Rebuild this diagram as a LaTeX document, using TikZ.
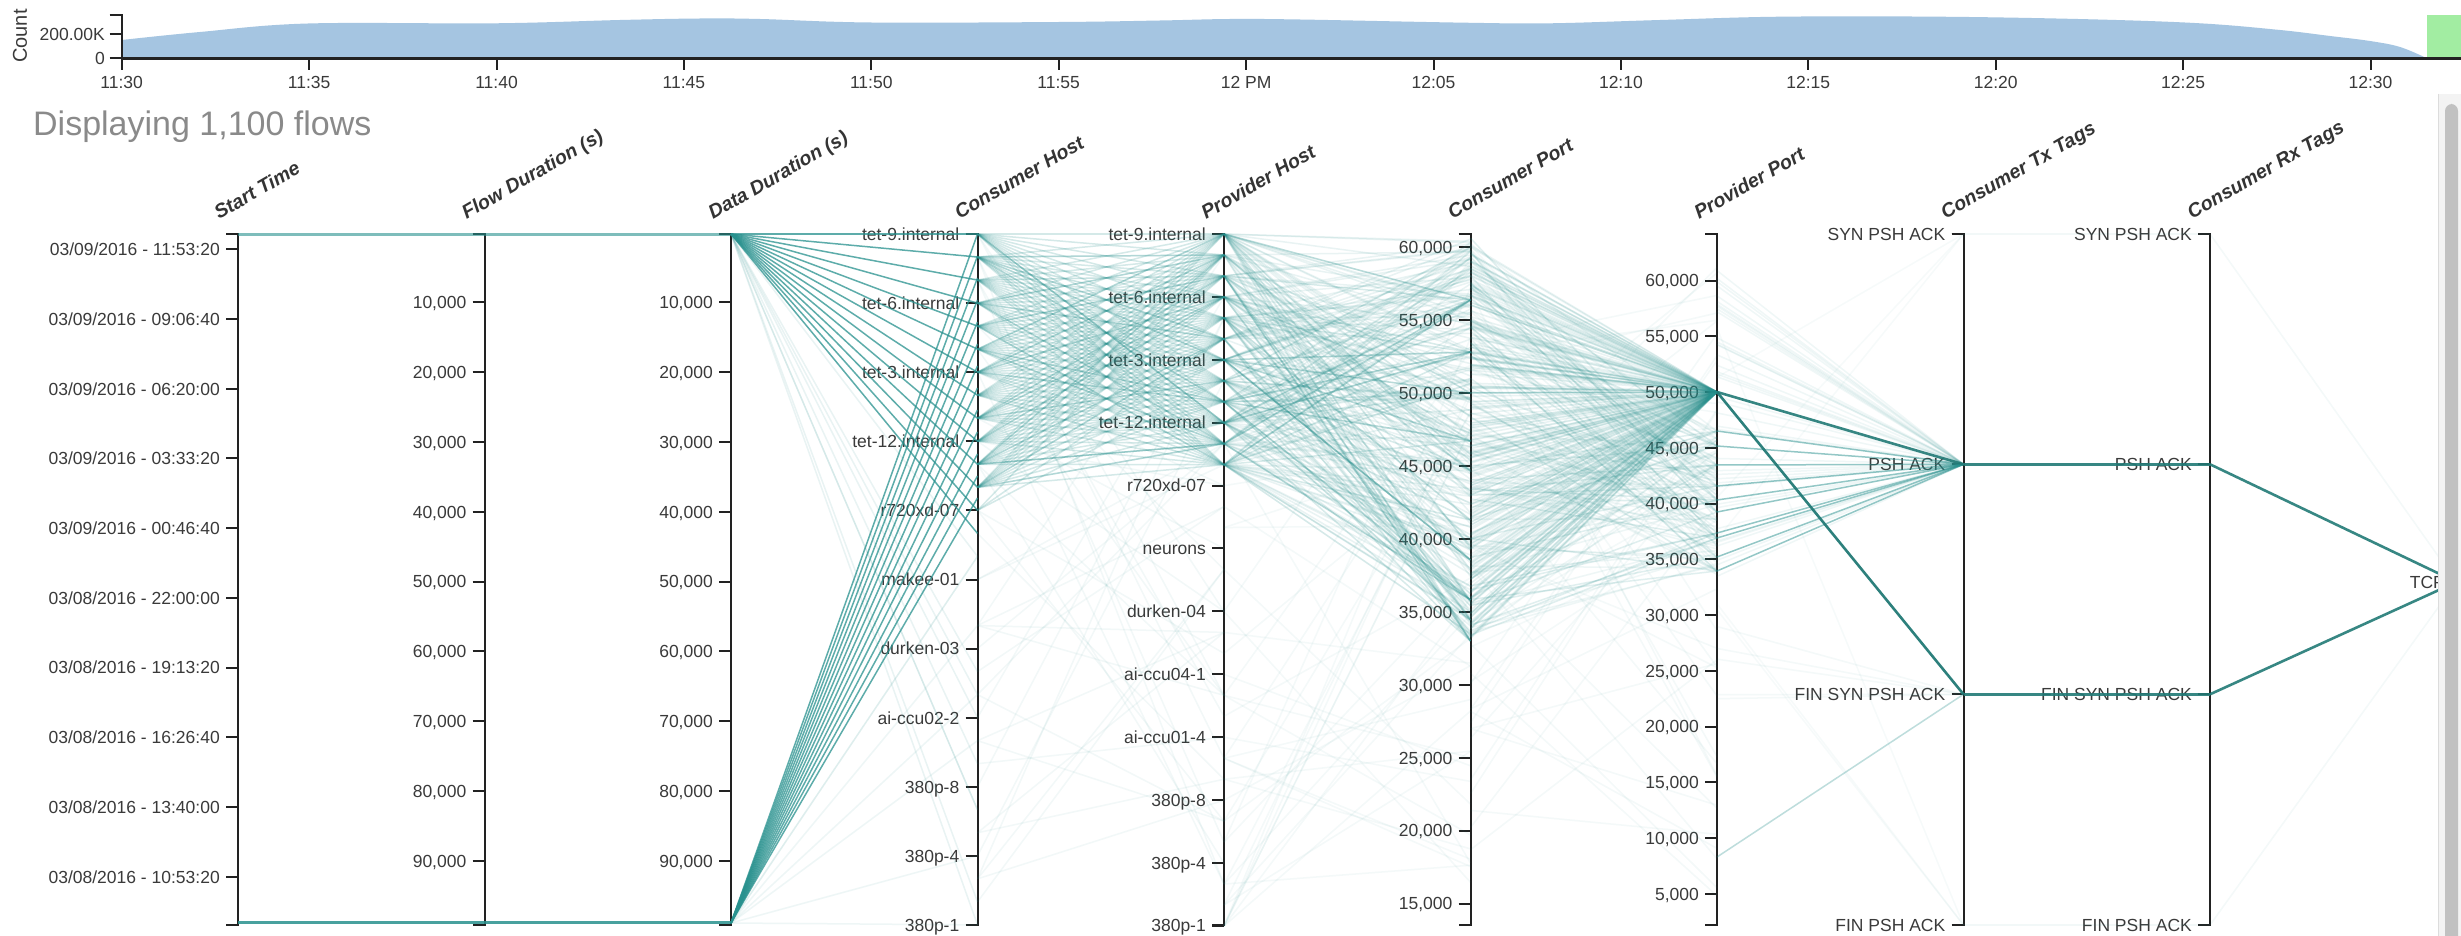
\documentclass[tikz,border=0pt]{standalone}
\usepackage{fontspec}
\setmainfont{Liberation Sans}
\definecolor{flow}{RGB}{40,145,142}
\definecolor{flowdark}{RGB}{34,122,118}
\definecolor{axisgray}{RGB}{34,34,34}
\definecolor{labgray}{RGB}{58,58,58}
\definecolor{titlegray}{RGB}{52,52,52}
\definecolor{areablue}{RGB}{165,197,225}
\definecolor{brush}{RGB}{152,236,152}
\definecolor{headgray}{RGB}{138,138,138}
\definecolor{trackgray}{RGB}{243,243,243}
\definecolor{trackedge}{RGB}{220,220,220}
\definecolor{thumbgray}{RGB}{193,193,193}

\newcommand{\paxis}[1]{\draw[axisline] (#1-12,234) -- (#1,234) -- (#1,925) -- (#1-12,925);}
\newcommand{\ptick}[3]{\draw[axisline] (#1-12,#2) -- (#1,#2); \node[ticklab] at (#1-18,#2+6.3) {#3};}

\begin{document}
\begin{tikzpicture}[x=1pt,y=-1pt,
  axisline/.style={draw=axisgray, line width=2pt},
  ticklab/.style={anchor=base east, text=labgray, inner sep=0pt,
    font=\fontsize{17.5}{20}\selectfont},
  smalllab/.style={text=labgray, inner sep=0pt, font=\fontsize{17.5}{20}\selectfont},
  axtitle/.style={anchor=base west, rotate=30, text=titlegray, inner sep=0pt,
    font=\fontsize{19.5}{22}\selectfont\bfseries\itshape},
  fl/.style={draw=flow, line width=1.5pt},
  heavy/.style={draw=flowdark, line width=2.6pt},
]
\useasboundingbox (0,0) rectangle (2461,936);
\fill[white] (0,0) rectangle (2461,936);

% ---------- timeline overview ----------
\fill[areablue] plot[smooth, tension=0.6] coordinates {(121.7,40) (200,32) (308,23.5)
  (495,23.3) (620,20) (700,18.5) (760,19) (871,22.5) (1059,22) (1160,20.5) (1230,19)
  (1300,19.5) (1465,22.7) (1550,23.3) (1660,20) (1780,16.7) (1940,16.7) (2090,19.3)
  (2200,23.3) (2280,30) (2330,36) (2370,41) (2400,47) (2427,58.3)}
  -- (121.7,58.3) -- cycle;
\fill[brush, opacity=0.9] (2427,15) rectangle (2461,58.3);
\draw[draw=axisgray, line width=2.6pt] (121.7,58.3) -- (2461,58.3);
\foreach \t [count=\i from 0] in {11:30,11:35,11:40,11:45,11:50,11:55,12 PM,12:05,12:10,12:15,12:20,12:25,12:30}{
  \pgfmathsetmacro\xx{121.7+187.4*\i}
  \draw[axisline] (\xx,58.3) -- (\xx,70);
  \node[smalllab, anchor=north] (time\i) at (\xx,76) {\t};
}
\draw[axisline] (109.7,15) -- (121.7,15) -- (121.7,58.3);
\draw[axisline] (109.7,34.3) -- (121.7,34.3);
\draw[axisline] (109.7,58.3) -- (121.7,58.3);
\node[smalllab, anchor=east] (c200) at (105,34.3) {200.00K};
\node[smalllab, anchor=east] (c0) at (105,58.3) {0};
\node[text=labgray, inner sep=0pt, rotate=90, font=\fontsize{20}{22}\selectfont] (count) at (20,36) {Count};

\node[anchor=west, text=headgray, inner sep=0pt, font=\fontsize{34}{38}\selectfont] (head) at (33,127) {Displaying 1,100 flows};

% ---------- axes ----------
\foreach \ax in {238,484.5,731,977.5,1224,1470.5,1717,1963.5,2210,2456.5}{\paxis{\ax}}

\foreach \lbl [count=\i from 0] in {03/09/2016 - 11:53:20,03/09/2016 - 09:06:40,03/09/2016 - 06:20:00,
  03/09/2016 - 03:33:20,03/09/2016 - 00:46:40,03/08/2016 - 22:00:00,03/08/2016 - 19:13:20,
  03/08/2016 - 16:26:40,03/08/2016 - 13:40:00,03/08/2016 - 10:53:20}{
  \pgfmathsetmacro\yy{249.3+69.72*\i}
  \ptick{238}{\yy}{\lbl}
}
\foreach \v in {1,...,9}{
  \pgfmathsetmacro\yy{232.5+69.8*\v}
  \ptick{484.5}{\yy}{\v0,000}
  \ptick{731}{\yy}{\v0,000}
}
\foreach \lbl [count=\i from 0] in {tet-9.internal,tet-6.internal,tet-3.internal,tet-12.internal,
  r720xd-07,makee-01,durken-03,ai-ccu02-2,380p-8,380p-4,380p-1}{
  \pgfmathsetmacro\yy{234+69.1*\i}
  \ptick{977.5}{\yy}{\lbl}
}
\foreach \lbl [count=\i from 0] in {tet-9.internal,tet-6.internal,tet-3.internal,tet-12.internal,
  r720xd-07,neurons,durken-04,ai-ccu04-1,ai-ccu01-4,380p-8,380p-4,380p-1}{
  \pgfmathsetmacro\yy{234+62.88*\i}
  \ptick{1224}{\yy}{\lbl}
}
\foreach \v [count=\i from 0] in {60,55,...,15}{
  \pgfmathsetmacro\yy{247.4+72.91*\i}
  \ptick{1470.5}{\yy}{\v,000}
}
\foreach \v [count=\i from 0] in {60,55,...,5}{
  \pgfmathsetmacro\yy{280.7+55.74*\i}
  \ptick{1717}{\yy}{\v,000}
}
\foreach \ax in {1963.5,2210}{
  \ptick{\ax}{234}{SYN PSH ACK}
  \ptick{\ax}{464.3}{PSH ACK}
  \ptick{\ax}{694.3}{FIN SYN PSH ACK}
  \ptick{\ax}{925}{FIN PSH ACK}
}
\draw[axisline] (2444.5,582) -- (2456.5,582);
\node[ticklab] (tcp) at (2445,588.3) {TCP};

\node[axtitle] (tstart) at (219,220) {Start Time};
\node[axtitle] (tflow) at (466.5,220) {Flow Duration (s)};
\node[axtitle] (tdata) at (713,220) {Data Duration (s)};
\node[axtitle] (tchost) at (959.5,220) {Consumer Host};
\node[axtitle] (tphost) at (1206,220) {Provider Host};
\node[axtitle] (tcport) at (1452.5,220) {Consumer Port};
\node[axtitle] (tpport) at (1699,220) {Provider Port};
\node[axtitle] (ttx) at (1945.5,220) {Consumer Tx Tags};
\node[axtitle] (trx) at (2192,220) {Consumer Rx Tags};

% ---------- flows ----------
\pgfmathsetseed{2016}

% start time / flow duration / data duration
\draw[fl, line width=2.4pt, opacity=.6] (238,234.5) -- (731,234.5);
\draw[fl, line width=3.4pt, opacity=.85] (238,922.5) -- (731,922.5);

% data duration -> consumer host
\foreach \c in {0,...,13}{\draw[fl, opacity=.75] (731,234) -- (977.5,234+23.03*\c);}
\foreach \c in {0,...,12}{\draw[fl, opacity=.75] (731,923) -- (977.5,234+22.0*\c);}
\foreach \k in {1,...,9}{
  \pgfmathsetmacro\yb{234+23.03*random(14,30)}
  \draw[fl, opacity=.1] (731,234) -- (977.5,\yb);}
\foreach \k in {1,...,7}{
  \pgfmathsetmacro\yb{234+23.03*random(12,30)}
  \draw[fl, opacity=.08] (731,923) -- (977.5,\yb);}

% consumer host -> provider host
\foreach \i in {0,...,11}{\foreach \j in {0,...,11}{
  \draw[fl, opacity=.2] (977.5,234+23.03*\i) -- (1224,234+20.97*\j);}}
\foreach \k in {1,...,30}{
  \pgfmathsetmacro\ya{234+23.03*random(0,12)}
  \pgfmathsetmacro\yb{234+20.97*random(0,11)}
  \draw[fl, opacity=.2] (977.5,\ya) -- (1224,\yb);}
\foreach \k in {1,...,45}{
  \pgfmathsetmacro\ya{234+23.03*random(0,30)}
  \pgfmathsetmacro\yb{234+20.97*random(0,33)}
  \draw[fl, opacity=.06] (977.5,\ya) -- (1224,\yb);}

% provider host -> consumer port
\foreach \k in {1,...,230}{
  \pgfmathsetmacro\ya{234+20.97*random(0,11)}
  \pgfmathsetmacro\yb{237+404*rnd}
  \draw[fl, opacity=.1] (1224,\ya) -- (1470.5,\yb);}
\foreach \k in {1,...,60}{
  \pgfmathsetmacro\ya{234+20.97*random(0,11)}
  \pgfmathsetmacro\yb{{393,441,641,300,352,470,520,560,600,620}[random(0,9)]}
  \draw[fl, opacity=.18] (1224,\ya) -- (1470.5,\yb);}
\foreach \k in {1,...,40}{
  \pgfmathsetmacro\ya{234+20.97*random(10,33)}
  \pgfmathsetmacro\yb{237+650*rnd}
  \draw[fl, opacity=.05] (1224,\ya) -- (1470.5,\yb);}

% consumer port -> provider port
\foreach \k in {1,...,200}{
  \pgfmathsetmacro\ya{237+404*rnd}
  \draw[fl, opacity=.1] (1470.5,\ya) -- (1717,392);}
\foreach \k in {1,...,80}{
  \pgfmathsetmacro\ya{237+404*rnd}
  \pgfmathsetmacro\yb{430+145*rnd}
  \draw[fl, opacity=.08] (1470.5,\ya) -- (1717,\yb);}
\foreach \k in {1,...,40}{
  \pgfmathsetmacro\ya{237+404*rnd}
  \pgfmathsetmacro\yb{{431,446,465,486,500,512,533,538,557,571}[random(0,9)]}
  \draw[fl, opacity=.14] (1470.5,\ya) -- (1717,\yb);}
\foreach \k in {1,...,50}{
  \pgfmathsetmacro\ya{237+650*rnd}
  \pgfmathsetmacro\yb{260+640*rnd}
  \draw[fl, opacity=.05] (1470.5,\ya) -- (1717,\yb);}
\draw[fl, opacity=.35] (1470.5,393) -- (1717,392);

% provider port -> consumer tx tags
\foreach \y in {431,446,465,486,500,512,533,538,557,571}{
  \draw[fl, opacity=.5] (1717,\y) -- (1963.5,464.3);}
\foreach \k in {1,...,40}{
  \pgfmathsetmacro\ya{260+330*rnd}
  \draw[fl, opacity=.07] (1717,\ya) -- (1963.5,464.3);}
\foreach \k in {1,...,5}{
  \pgfmathsetmacro\ya{620+250*rnd}
  \draw[fl, opacity=.05] (1717,\ya) -- (1963.5,694.3);}
\foreach \k in {1,...,3}{
  \pgfmathsetmacro\ya{300+300*rnd}
  \draw[fl, opacity=.04] (1717,\ya) -- (1963.5,234);
  \pgfmathsetmacro\yb{300+500*rnd}
  \draw[fl, opacity=.04] (1717,\yb) -- (1963.5,925);}
\draw[fl, opacity=.3] (1717,857) -- (1963.5,694.3);
\draw[heavy, opacity=.9] (1717,392) -- (1963.5,464.3);
\draw[heavy, opacity=.95] (1717,392) -- (1963.5,694.3);

% consumer tx tags -> consumer rx tags -> protocol
\draw[fl, opacity=.06] (1963.5,234) -- (2210,234);
\draw[fl, opacity=.06] (1963.5,925) -- (2210,925);
\draw[heavy, line width=3pt, opacity=.9] (1963.5,464.3) -- (2210,464.3);
\draw[heavy, line width=3pt, opacity=.9] (1963.5,694.3) -- (2210,694.3);
\draw[fl, opacity=.05] (2210,234) -- (2456.5,582);
\draw[fl, opacity=.05] (2210,925) -- (2456.5,582);
\draw[heavy, opacity=.9] (2210,464.3) -- (2456.5,582);
\draw[heavy, opacity=.9] (2210,694.3) -- (2456.5,582);

% ---------- scroll bar ----------
\fill[trackgray] (2438,94) rectangle (2461,936);
\draw[trackedge, line width=1.5pt] (2438.5,94) -- (2438.5,936);
\fill[thumbgray, rounded corners=7pt] (2445,104) rectangle (2458,950);
\end{tikzpicture}
\end{document}
